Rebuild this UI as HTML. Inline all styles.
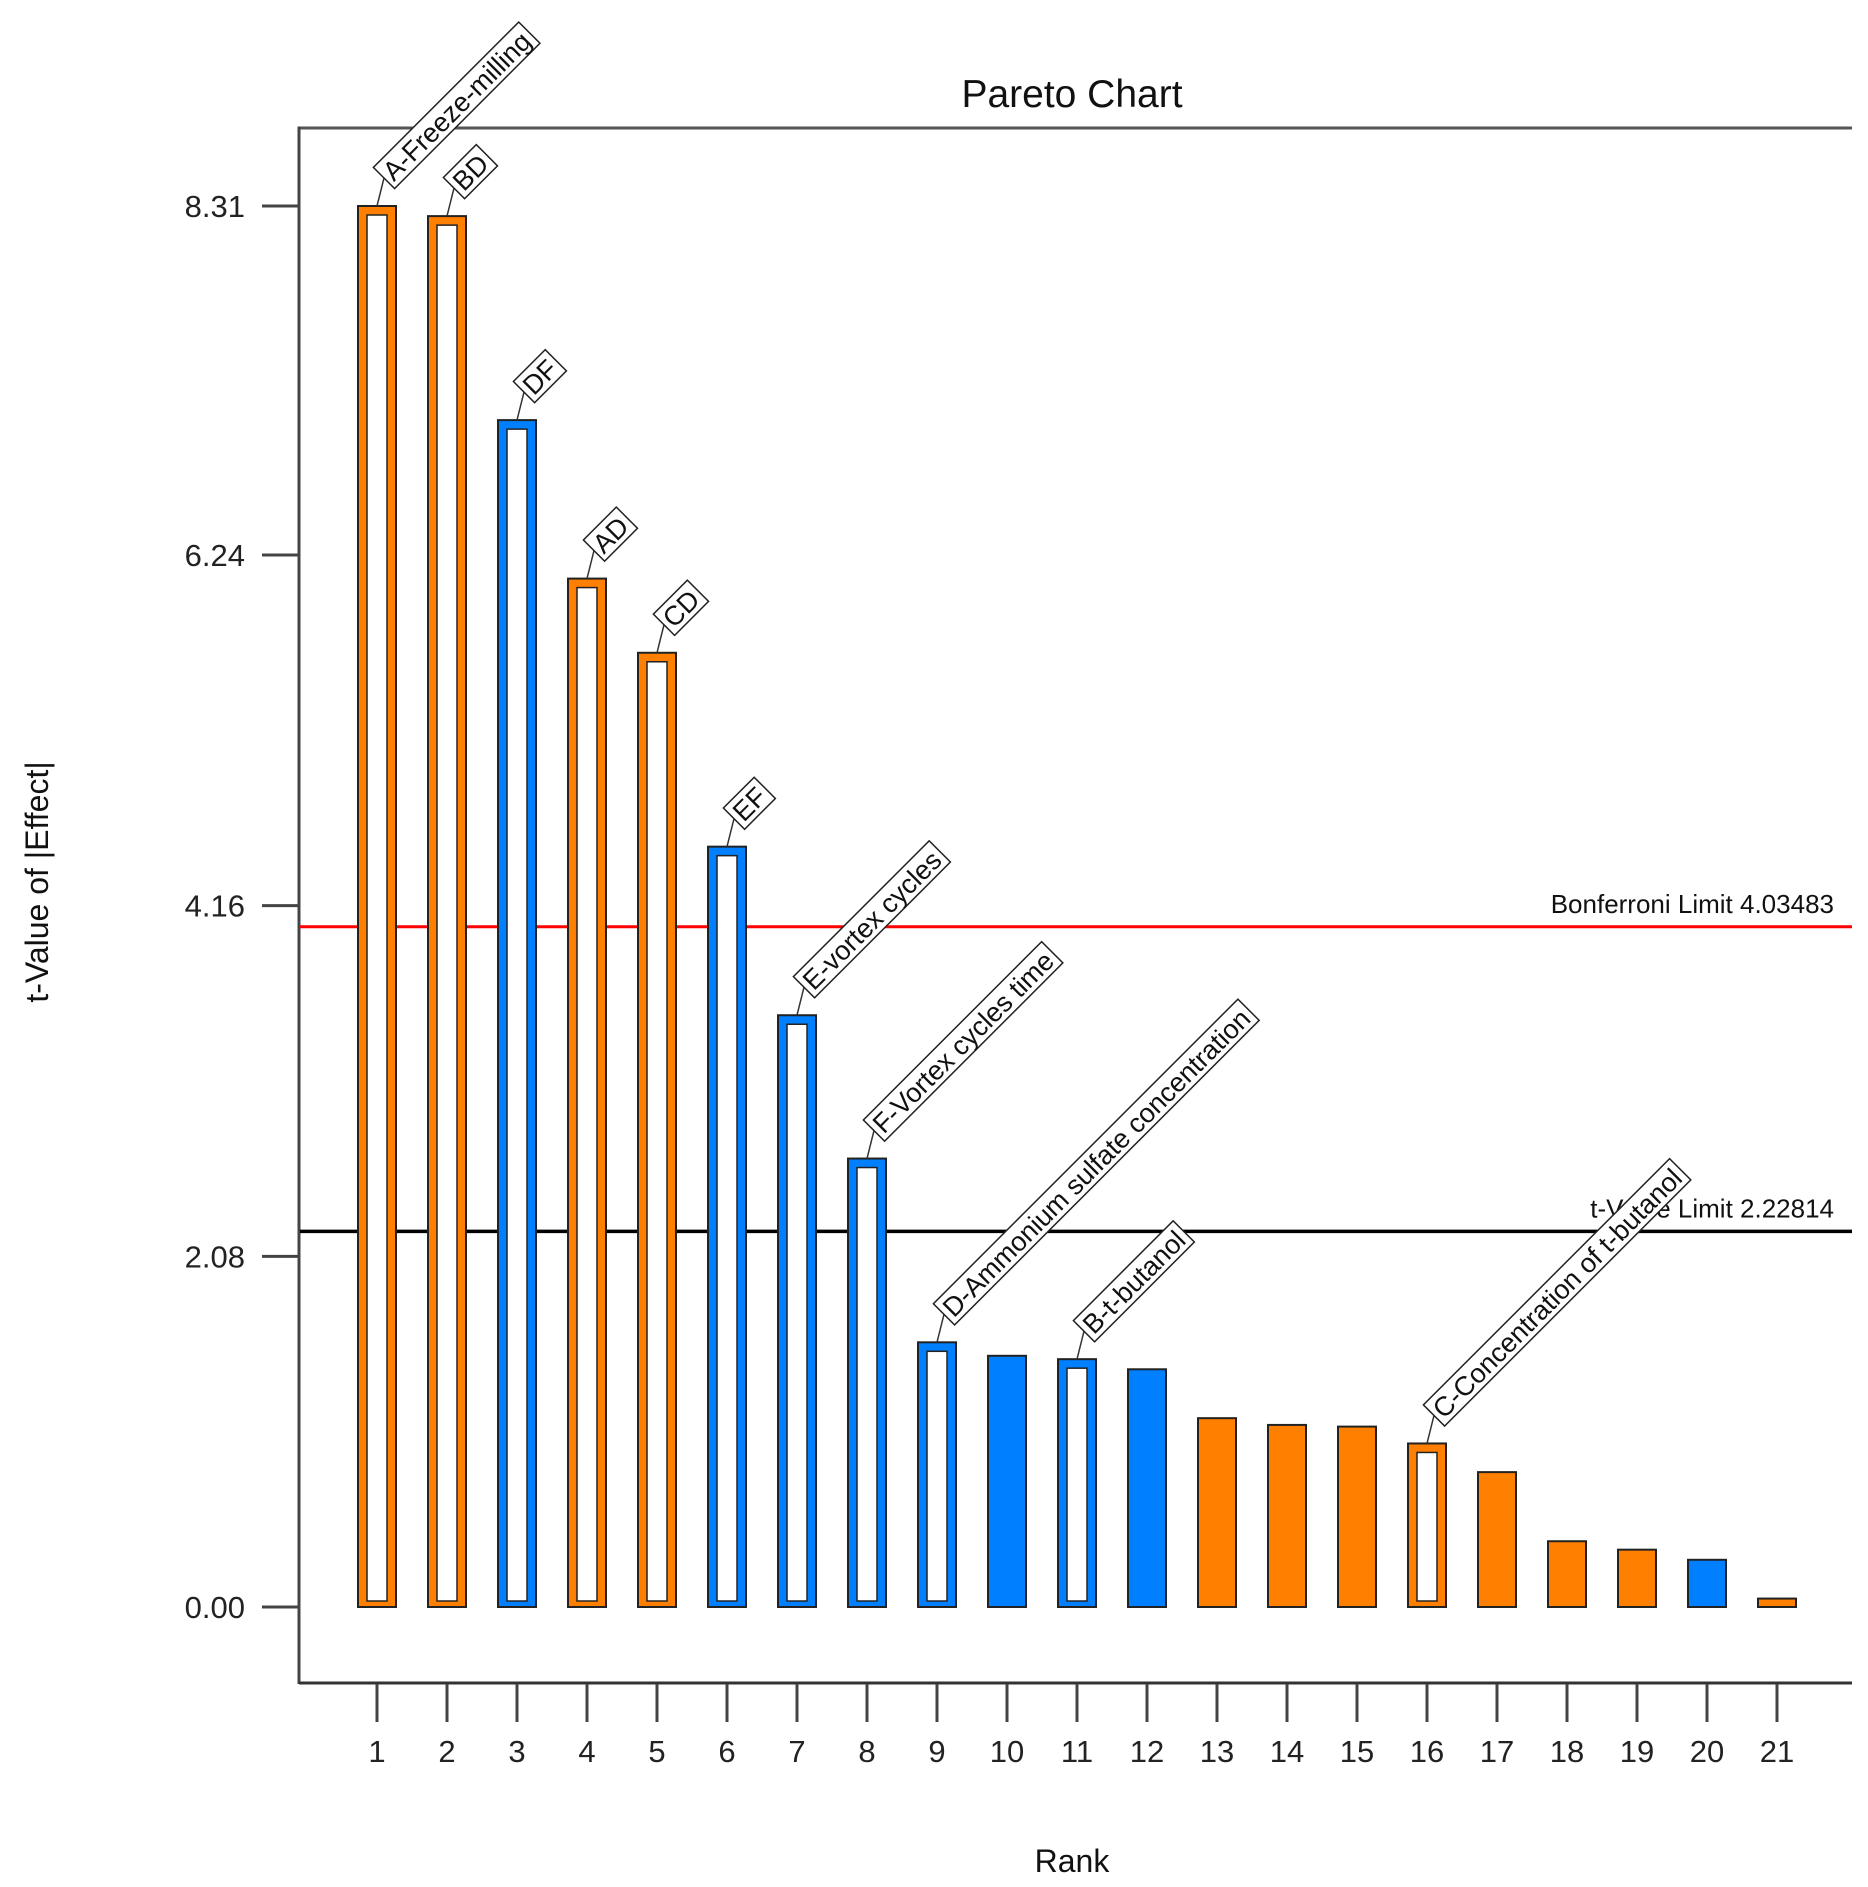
<!DOCTYPE html>
<html><head><meta charset="utf-8"><style>
html,body{margin:0;padding:0;background:#fff;}
svg{display:block;font-family:"Liberation Sans",Arial,sans-serif;}
</style></head><body>
<svg id="chart" width="1868" height="1887" viewBox="0 0 1868 1887" xmlns="http://www.w3.org/2000/svg">
<text x="1072" y="107" font-size="39" text-anchor="middle" fill="#111">Pareto Chart</text>
<text transform="translate(48,882) rotate(-90)" font-size="32" text-anchor="middle" fill="#111">t-Value of |Effect|</text>
<text x="1072" y="1872" font-size="32" text-anchor="middle" fill="#111">Rank</text>
<g id="frame">
<line x1="299" y1="128" x2="1852" y2="128" stroke="#555" stroke-width="3"/>
<line x1="299" y1="126.5" x2="299" y2="1684" stroke="#444" stroke-width="3"/>
<line x1="299" y1="1683" x2="1852" y2="1683" stroke="#333" stroke-width="3"/>
</g>
<g id="yaxis"></g>
<g id="xaxis"></g>
<g id="limits"></g>
<g id="bars"></g>
<g id="labels"></g>
</svg>
<script>
const ranks = [1,2,3,4,5,6,7,8,9,10,11,12,13,14,15,16,17,18,19,20,21];
const tValues = [8.31,8.25,7.04,6.10,5.66,4.51,3.51,2.66,1.57,1.49,1.47,1.41,1.12,1.08,1.07,0.97,0.80,0.39,0.34,0.28,0.05];
const signs = ["pos","pos","neg","pos","pos","neg","neg","neg","neg","neg","neg","neg","pos","pos","pos","pos","pos","pos","pos","neg","pos"];
const hollow = [true,true,true,true,true,true,true,true,true,false,true,false,false,false,false,true,false,false,false,false,false];
const termLabels = ["A-Freeze-milling","BD","DF","AD","CD","EF","E-vortex cycles","F-Vortex cycles time","D-Ammonium sulfate concentration","","B-t-butanol","","","","","C-Concentration of t-butanol","","","","",""];
const yTicks = [0,2.08,4.16,6.24,8.31];
const yTickLabels = ["0.00","2.08","4.16","6.24","8.31"];
const bonferroni = 4.03483;
const tLimit = 2.22814;

const NS="http://www.w3.org/2000/svg";
const Y0=1607, YK=(1607-206)/8.31;
function yS(v){return Y0 - v*YK;}
function xS(r){return 377 + (r-1)*70;}
function mk(tag,attrs,parent){const e=document.createElementNS(NS,tag);for(const k in attrs)e.setAttribute(k,attrs[k]);parent.appendChild(e);return e;}
const colors={pos:"#FF8000",neg:"#0080FF"};

const yg=document.getElementById('yaxis');
yTicks.forEach((v,i)=>{
  const t=mk('line',{x1:262,x2:299,y1:yS(v),y2:yS(v),stroke:"#444","stroke-width":3},yg);
  
  
  const l=mk('text',{x:245,y:yS(v)+11,"font-size":31,"text-anchor":"end",fill:"#222"},yg);
  l.textContent=yTickLabels[i];
  
  
});
const xg=document.getElementById('xaxis');
ranks.forEach(r=>{
  const t=mk('line',{x1:xS(r),x2:xS(r),y1:1684,y2:1722,stroke:"#444","stroke-width":3},xg);
  
  
  const l=mk('text',{x:xS(r),y:1762,"font-size":31,"text-anchor":"middle",fill:"#222"},xg);
  l.textContent=r;
  
  
});
const lg=document.getElementById('limits');
let bl=mk('line',{x1:300,x2:1852,y1:yS(bonferroni),y2:yS(bonferroni),stroke:"#FF0000","stroke-width":3},lg);


let bt=mk('text',{x:1834,y:yS(bonferroni)-14,"font-size":26,"text-anchor":"end",fill:"#111"},lg);
bt.textContent="Bonferroni Limit "+bonferroni;


let tl=mk('line',{x1:300,x2:1852,y1:yS(tLimit),y2:yS(tLimit),stroke:"#000","stroke-width":3.5},lg);


let tt=mk('text',{x:1834,y:yS(tLimit)-14,"font-size":26,"text-anchor":"end",fill:"#111"},lg);
tt.textContent="t-Value Limit "+tLimit;



const bg=document.getElementById('bars');
const labg=document.getElementById('labels');
ranks.forEach((r,i)=>{
  const cx=xS(r), top=yS(tValues[i]), w=38, h=Y0-top;
  const c=colors[signs[i]];
  const b=mk('rect',{x:cx-w/2,y:top,width:w,height:h,fill:c,stroke:"#222","stroke-width":2},bg);
  
  
  if(hollow[i] && h>20){
    const inner=mk('rect',{x:cx-w/2+9,y:top+9,width:w-18,height:h-15,fill:"#fff",stroke:"#222","stroke-width":1.5},bg);
    
    
  }
  if(termLabels[i]){
    const ax=cx+7, ay=top-28;
    const ld=mk('line',{x1:cx,y1:top,x2:ax,y2:ay,stroke:"#333","stroke-width":1.5},labg);
    
    
    const g=mk('g',{transform:`translate(${ax},${ay}) rotate(-45)`},labg);
    
    
    const rect=mk('rect',{x:0,y:-15,width:10,height:30,fill:"#fff",stroke:"#222","stroke-width":1.5},g);
    const tx=mk('text',{x:4,y:10,"font-size":27,fill:"#111"},g);
    tx.textContent=termLabels[i];
    rect.setAttribute('width',tx.getComputedTextLength()+9);
  }
});
</script>
</body></html>
